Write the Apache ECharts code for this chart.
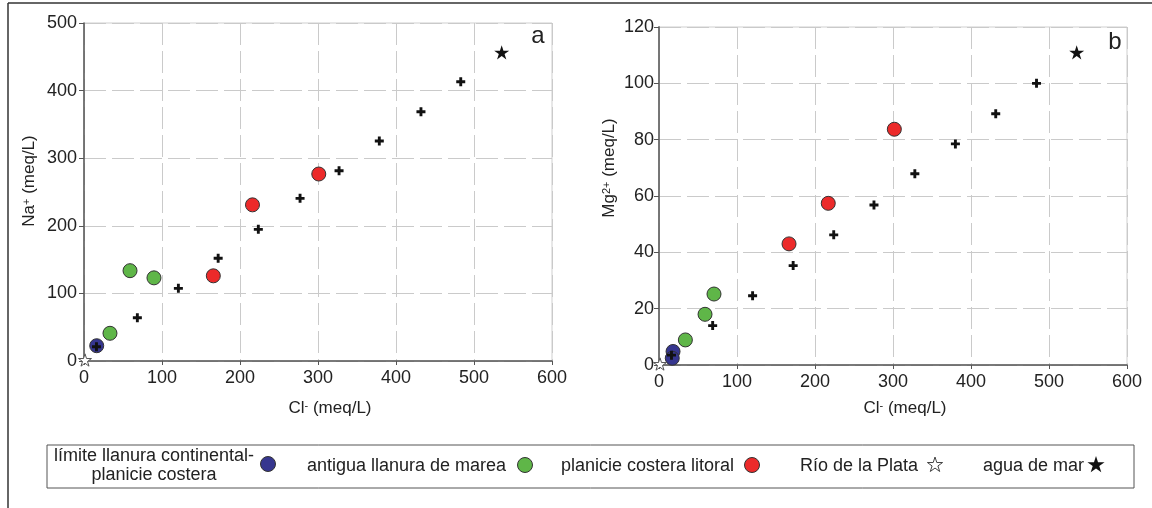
<!DOCTYPE html>
<html>
<head>
<meta charset="utf-8">
<script src="https://cdn.jsdelivr.net/npm/echarts@6/dist/echarts.min.js"></script>
<style>
  html, body { margin: 0; padding: 0; background: #fff; }
  #chart { width: 1152px; height: 508px; }
</style>
</head>
<body>
<div id="chart"></div>
<script>
// Axis ticks
const clTicks = [0, 100, 200, 300, 400, 500, 600];
const naTicks = [0, 100, 200, 300, 400, 500];
const mgTicks = [0, 20, 40, 60, 80, 100, 120];

// Group names
const groupNames = [
  'límite llanura continental-\nplanicie costera',
  'antigua llanura de marea',
  'planicie costera litoral',
  'Río de la Plata',
  'agua de mar'
];

// Panel a: [Cl-, Na+] in meq/L
const limiteNa = [[16.3, 22.6]];
const antiguaNa = [[33.3, 41], [59, 133.6], [89.7, 123]];
const litoralNa = [[165.8, 126], [216, 231], [301, 276.6]];
const rioNa = [[1.3, 1.5]];
const marNa = [[535.5, 456.6]];
const mezclaNa = [[16, 21], [68.4, 64], [121, 107.5], [172, 152], [223.5, 194.8],
  [277, 240.6], [327, 281.5], [378.6, 325.4], [432, 368.8], [483, 413]];

// Panel b: [Cl-, Mg2+] in meq/L
const limiteMg = [[18, 4.8], [17, 2.4]];
const antiguaMg = [[33.8, 8.9], [59, 18], [70.5, 25.2]];
const litoralMg = [[166.7, 43], [217, 57.4], [301.7, 83.7]];
const rioMg = [[1.3, 0.35]];
const marMg = [[535.5, 111]];
const mezclaMg = [[16, 3.5], [68.8, 14], [120, 24.6], [172, 35.3], [224, 46.2],
  [275.6, 56.8], [328, 67.9], [380, 78.5], [431.7, 89.2], [484, 100]];

const FONT = "'Liberation Sans', Arial, sans-serif";
const TXT = '#222';
const COLORS = { limite: '#36368f', antigua: '#5fb648', litoral: '#ec2a2a' };
const STAR = 'path://M50,0L61.2,34.5L97.6,34.5L68.2,55.9L79.4,90.5L50,69.1L20.6,90.5L31.8,55.9L2.4,34.5L38.8,34.5Z';
const PLUS = 'path://M3.4,0H6.6V3.4H10V6.6H6.6V10H3.4V6.6H0V3.4H3.4Z';

const nameRich = {
  b: { fontSize: 17, fontFamily: FONT, color: TXT },
  s: { fontSize: 11, fontFamily: FONT, color: TXT, verticalAlign: 'top' }
};

function xAxis(gridIndex, nameGap) {
  return {
    type: 'value', gridIndex, min: clTicks[0], max: clTicks[clTicks.length - 1], interval: 100,
    name: '{b|Cl}{s|-}{b| (meq/L)}', nameLocation: 'middle', nameGap,
    nameTextStyle: { rich: nameRich, padding: [0, 0, 0, 24] },
    axisLine: { show: true, onZero: false, lineStyle: { color: '#555', width: 1.5 } },
    axisTick: { show: true, length: 4, lineStyle: { color: '#555' } },
    axisLabel: { margin: 8, fontSize: 18, fontFamily: FONT, color: TXT },
    splitLine: { show: true, lineStyle: { color: '#cacaca', type: [22, 6], width: 1 } }
  };
}

function yAxis(gridIndex, ticks, name, nameGap, shift, margin) {
  return {
    type: 'value', gridIndex, min: ticks[0], max: ticks[ticks.length - 1], interval: ticks[1] - ticks[0],
    name, nameLocation: 'middle', nameGap,
    nameTextStyle: { rich: nameRich, padding: [0, 0, 0, shift] },
    axisLine: { show: true, onZero: false, lineStyle: { color: '#555', width: 1.5 } },
    axisTick: { show: true, length: 5, lineStyle: { color: '#555' } },
    axisLabel: { margin, fontSize: 18, fontFamily: FONT, color: TXT },
    splitLine: { show: true, lineStyle: { color: '#cacaca', type: [22, 6], width: 1 } }
  };
}

function circles(name, color, data, idx) {
  return {
    type: 'scatter', name, data, xAxisIndex: idx, yAxisIndex: idx,
    symbol: 'circle', symbolSize: 14, clip: false, z: 3,
    itemStyle: { color, borderColor: '#333', borderWidth: 1, opacity: 1 }
  };
}

function stars(name, data, idx, filled) {
  return {
    type: 'scatter', name, data, xAxisIndex: idx, yAxisIndex: idx,
    symbol: STAR, symbolSize: filled ? 15 : 13, symbolKeepAspect: true, clip: false, z: 3,
    itemStyle: filled
      ? { color: '#111', borderWidth: 0, opacity: 1 }
      : { color: '#fff', borderColor: '#555', borderWidth: 1, opacity: 1 }
  };
}

function pluses(data, idx) {
  return {
    type: 'scatter', name: 'mezcla', data, xAxisIndex: idx, yAxisIndex: idx,
    symbol: PLUS, symbolSize: 9, clip: false, z: 4,
    itemStyle: { color: '#111', opacity: 1 }
  };
}

function starPoints(cx, cy, r) {
  const pts = [];
  for (let i = 0; i < 10; i++) {
    const ang = -Math.PI / 2 + i * Math.PI / 5;
    const rr = i % 2 === 0 ? r : r * 0.382;
    pts.push([cx + rr * Math.cos(ang), cy + rr * Math.sin(ang)]);
  }
  return pts;
}

const legendFont = '18px ' + FONT;
const legendItems = [
  { type: 'rect', shape: { x: 47, y: 445, width: 1087, height: 43 },
    style: { fill: '#fff', stroke: '#555', lineWidth: 1 } },
  { type: 'text', x: 154, y: 466,
    style: { text: groupNames[0], font: legendFont, fill: TXT, align: 'center', verticalAlign: 'middle', lineHeight: 19 } },
  { type: 'circle', shape: { cx: 268, cy: 464, r: 7.5 },
    style: { fill: COLORS.limite, stroke: '#333', lineWidth: 1 } },
  { type: 'text', x: 307, y: 466,
    style: { text: groupNames[1], font: legendFont, fill: TXT, align: 'left', verticalAlign: 'middle' } },
  { type: 'circle', shape: { cx: 525, cy: 465, r: 7.5 },
    style: { fill: COLORS.antigua, stroke: '#333', lineWidth: 1 } },
  { type: 'text', x: 561, y: 466,
    style: { text: groupNames[2], font: legendFont, fill: TXT, align: 'left', verticalAlign: 'middle' } },
  { type: 'circle', shape: { cx: 752, cy: 465, r: 7.5 },
    style: { fill: COLORS.litoral, stroke: '#333', lineWidth: 1 } },
  { type: 'text', x: 800, y: 466,
    style: { text: groupNames[3], font: legendFont, fill: TXT, align: 'left', verticalAlign: 'middle' } },
  { type: 'polygon', shape: { points: starPoints(935, 465, 8) },
    style: { fill: '#fff', stroke: '#444', lineWidth: 1 } },
  { type: 'text', x: 983, y: 466,
    style: { text: groupNames[4], font: legendFont, fill: TXT, align: 'left', verticalAlign: 'middle' } },
  { type: 'polygon', shape: { points: starPoints(1096, 465, 9) },
    style: { fill: '#111' } }
];

const chart = echarts.init(document.getElementById('chart'), null, { renderer: 'canvas' });
chart.setOption({
  backgroundColor: '#fff',
  animation: false,
  textStyle: { fontFamily: FONT },
  grid: [
    { left: 84, top: 23, width: 468, height: 338, show: true, borderColor: '#cfcfcf', borderWidth: 1, backgroundColor: 'transparent' },
    { left: 659, top: 27, width: 468, height: 338, show: true, borderColor: '#cfcfcf', borderWidth: 1, backgroundColor: 'transparent' }
  ],
  xAxis: [xAxis(0, 39), xAxis(1, 35)],
  yAxis: [
    yAxis(0, naTicks, '{b|Na}{s|+}{b| (meq/L)}', 46, 22, 7),
    yAxis(1, mgTicks, '{b|Mg}{s|2+}{b| (meq/L)}', 41, 56, 5),
    { type: 'value', gridIndex: 1, position: 'right', min: mgTicks[0], max: mgTicks[mgTicks.length - 1],
      axisLine: { show: true, lineStyle: { color: '#777', width: 1.5 } },
      axisTick: { show: false }, axisLabel: { show: false }, splitLine: { show: false } }
  ],
  series: [
    circles(groupNames[0], COLORS.limite, limiteNa, 0),
    circles(groupNames[1], COLORS.antigua, antiguaNa, 0),
    circles(groupNames[2], COLORS.litoral, litoralNa, 0),
    stars(groupNames[3], rioNa, 0, false),
    stars(groupNames[4], marNa, 0, true),
    pluses(mezclaNa, 0),
    circles(groupNames[0], COLORS.limite, limiteMg, 1),
    circles(groupNames[1], COLORS.antigua, antiguaMg, 1),
    circles(groupNames[2], COLORS.litoral, litoralMg, 1),
    stars(groupNames[3], rioMg, 1, false),
    stars(groupNames[4], marMg, 1, true),
    pluses(mezclaMg, 1)
  ],
  graphic: [
    // page frame
    { type: 'line', shape: { x1: 8, y1: 3, x2: 1152, y2: 3 }, style: { stroke: '#333', lineWidth: 1.5 } },
    { type: 'line', shape: { x1: 8, y1: 3, x2: 8, y2: 508 }, style: { stroke: '#333', lineWidth: 1.5 } },
    // panel letters
    { type: 'text', x: 538, y: 36, style: { text: 'a', font: '24px ' + FONT, fill: TXT, align: 'center', verticalAlign: 'middle' } },
    { type: 'text', x: 1115, y: 42, style: { text: 'b', font: '24px ' + FONT, fill: TXT, align: 'center', verticalAlign: 'middle' } }
  ].concat(legendItems)
});
</script>
</body>
</html>
